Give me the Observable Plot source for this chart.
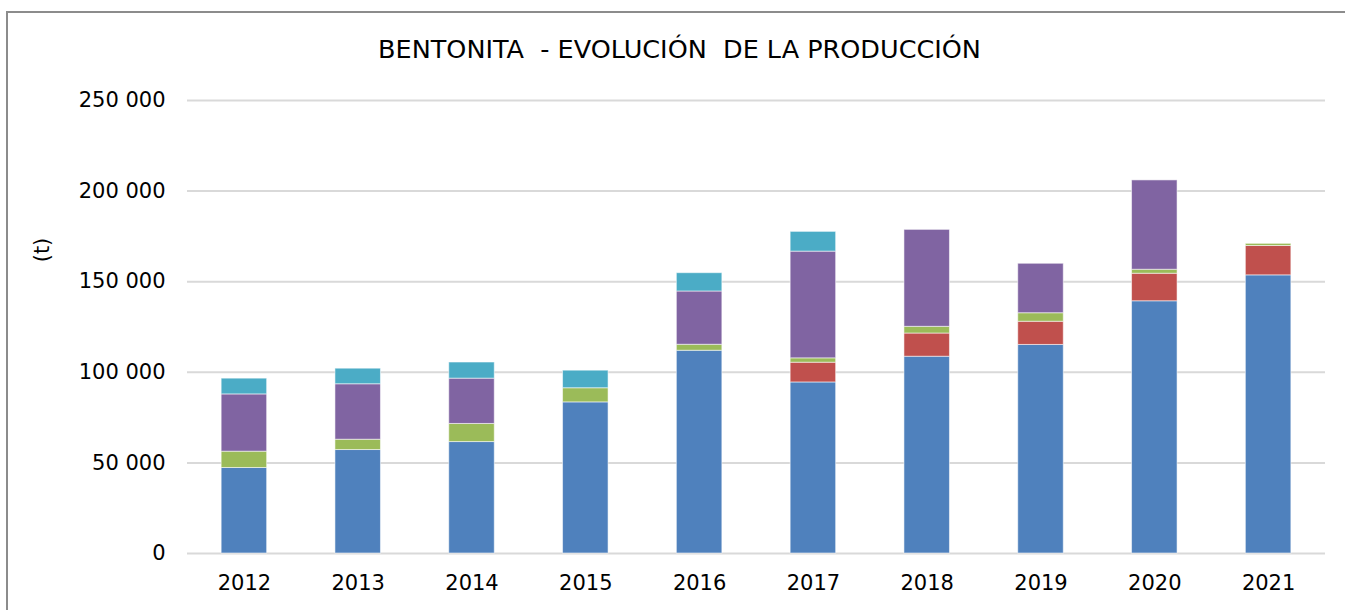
<!DOCTYPE html>
<html>
<head>
<meta charset="utf-8">
<script src="https://cdn.jsdelivr.net/npm/d3@7"></script>
<script src="https://cdn.jsdelivr.net/npm/@observablehq/plot@0.6"></script>
<style>
  html, body { margin: 0; padding: 0; background: #fff; }
  body { width: 1345px; height: 610px; overflow: hidden; position: relative; font-family: "DejaVu Sans", sans-serif; }
  #frame { position: absolute; left: 6px; top: 11px; width: 1345px; height: 620px; border-left: 2px solid #8c8c8c; border-top: 2px solid #8c8c8c; }
  #title { position: absolute; left: 7px; width: 1345px; top: 37px; line-height: 25.5px; text-align: center; font-size: 25.5px; white-space: pre; color: #000; }
  #ylabel { position: absolute; left: 42px; top: 250px; font-size: 21px; color: #000; transform: translate(-50%, -50%) rotate(-90deg); white-space: pre; }
  #chart { position: absolute; left: 0; top: 0; }
</style>
</head>
<body>
<div id="frame"></div>
<div id="chart"></div>
<div id="title">BENTONITA  - EVOLUCIÓN  DE LA PRODUCCIÓN</div>
<div id="ylabel">(t)</div>
<script>
// Data (tonnes)
const years = ["2012", "2013", "2014", "2015", "2016", "2017", "2018", "2019", "2020", "2021"];
const seriesNames = ["Serie 1", "Serie 2", "Serie 3", "Serie 4", "Serie 5"];
const seriesColors = ["#4F81BD", "#C0504D", "#9BBB59", "#8064A2", "#4BACC6"];
const serie1 = [47200, 57100, 61500, 83400, 111900, 94400, 108600, 115100, 139200, 153500]; // blue
const serie2 = [0, 0, 0, 0, 0, 10900, 12800, 12800, 15200, 16200];                          // red
const serie3 = [9000, 5700, 10000, 7800, 3300, 2400, 3700, 4700, 2200, 1200];                // green
const serie4 = [31600, 30600, 25000, 0, 29400, 58900, 53500, 27300, 49300, 0];               // purple
const serie5 = [8700, 8600, 8900, 9700, 10100, 10900, 0, 0, 0, 0];                           // cyan
const yTicks = [0, 50000, 100000, 150000, 200000, 250000];

const allSeries = [serie1, serie2, serie3, serie4, serie5];
const rows = [];
years.forEach((yr, i) => {
  allSeries.forEach((s, k) => {
    rows.push({year: yr, series: seriesNames[k], value: s[i]});
  });
});

const fmt = d => d3.format(",")(d).replace(/,/g, " ");

const chart = Plot.plot({
  width: 1345,
  height: 610,
  marginTop: 100,
  marginBottom: 57,
  marginLeft: 187,
  marginRight: 20,
  style: { fontFamily: "DejaVu Sans, sans-serif", fontSize: "21px", color: "#000", background: "transparent" },
  x: { domain: years, paddingInner: 0.6, paddingOuter: 0.3, round: false },
  y: { domain: [0, 250000] },
  color: { domain: seriesNames, range: seriesColors },
  marks: [
    Plot.ruleY(yTicks, { stroke: "#d9d9d9", strokeWidth: 2 }),
    Plot.barY(rows, Plot.stackY({ order: seriesNames }, {
      x: "year", y: "value", fill: "series",
      stroke: "#ffffff", strokeOpacity: 0.55, strokeWidth: 1
    })),
    Plot.axisY(yTicks, { tickSize: 0, tickPadding: 22, tickFormat: fmt, label: null }),
    Plot.axisX({ tickSize: 0, tickPadding: 22, label: null })
  ]
});
document.getElementById("chart").appendChild(chart);
</script>
</body>
</html>
